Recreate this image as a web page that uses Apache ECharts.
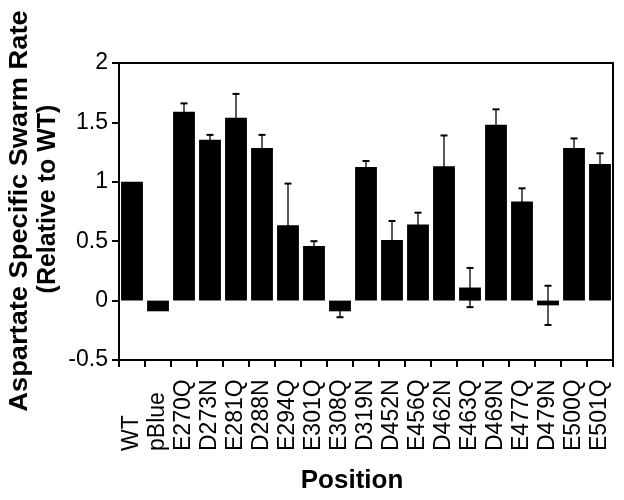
<!DOCTYPE html>
<html><head><meta charset="utf-8">
<script src="https://cdn.jsdelivr.net/npm/echarts@6/dist/echarts.min.js"></script>
<style>html,body{margin:0;padding:0;background:#fff}#c{width:624px;height:500px}</style>
</head><body><div id="c"></div>
<script>
var categories = ['WT','pBlue','E270Q','D273N','E281Q','D288N','E294Q','E301Q','E308Q','D319N','D452N','E456Q','D462N','E463Q','D469N','E477Q','D479N','E500Q','E501Q'];
var values = [1.0,-0.09,1.59,1.355,1.54,1.285,0.635,0.46,-0.09,1.125,0.51,0.64,1.13,0.11,1.48,0.835,-0.04,1.285,1.15];
var errors = [0,0,0.07,0.04,0.20,0.11,0.35,0.04,0.05,0.05,0.16,0.10,0.26,0.165,0.13,0.11,0.165,0.08,0.09];
var yTicks = [-0.5,0,0.5,1,1.5,2];

var FONT = 'Liberation Sans, Arial, Helvetica, sans-serif';
var errData = categories.map(function(c,i){ return [i, values[i]-errors[i], values[i]+errors[i], errors[i]]; });

var chart = echarts.init(document.getElementById('c'));
chart.setOption({
  animation: false,
  backgroundColor: '#fff',
  grid: {left: 119, right: 11, top: 63, bottom: 140},
  xAxis: [{
    type: 'category', data: categories, position: 'bottom',
    axisLine: {lineStyle: {color: '#000', width: 2}, onZero: false},
    axisTick: {show: true, length: 7, lineStyle: {color: '#000', width: 2}},
    axisLabel: {rotate: 90, align: 'left', color: '#000', fontSize: 23, fontFamily: FONT, margin: 91, interval: 0}
  }, {
    type: 'category', data: categories, position: 'top',
    axisLine: {show: true, onZero: false, lineStyle: {color: '#000', width: 2}},
    axisTick: {show: false}, axisLabel: {show: false}
  }],
  yAxis: [{
    type: 'value', min: yTicks[0], max: yTicks[yTicks.length-1], interval: 0.5,
    axisLine: {show: true, onZero: false, lineStyle: {color: '#000', width: 2}},
    axisTick: {show: true, length: 7, lineStyle: {color: '#000', width: 2}},
    splitLine: {show: false},
    axisLabel: {color: '#000', fontSize: 23, fontFamily: FONT, margin: 11}
  }, {
    type: 'value', min: yTicks[0], max: yTicks[yTicks.length-1], interval: 0.5, position: 'right',
    axisLine: {show: true, onZero: false, lineStyle: {color: '#000', width: 2}},
    axisTick: {show: false}, axisLabel: {show: false}, splitLine: {show: false}
  }],
  series: [{
    type: 'bar', data: values, barCategoryGap: '16%',
    itemStyle: {color: '#000'}
  }, {
    type: 'custom', data: errData, z: 5,
    renderItem: function(params, api) {
      if (api.value(3) <= 0) return null;
      var x = api.value(0);
      var lo = api.coord([x, api.value(1)]);
      var hi = api.coord([x, api.value(2)]);
      var hw = 3.5;
      var st = {stroke: '#000', lineWidth: 1.3};
      return {type: 'group', children: [
        {type: 'line', shape: {x1: lo[0], y1: lo[1], x2: hi[0], y2: hi[1]}, style: st},
        {type: 'line', shape: {x1: hi[0]-hw, y1: hi[1], x2: hi[0]+hw, y2: hi[1]}, style: {stroke: '#000', lineWidth: 2}},
        {type: 'line', shape: {x1: lo[0]-hw, y1: lo[1], x2: lo[0]+hw, y2: lo[1]}, style: {stroke: '#000', lineWidth: 2}}
      ]};
    }
  }],
  graphic: [
    {type: 'text', x: 20, y: 211, rotation: Math.PI/2, scaleX: 1.09,
     style: {text: 'Aspartate Specific Swarm Rate', font: 'bold 25px ' + FONT, fill: '#000', textAlign: 'center', textVerticalAlign: 'middle'}},
    {type: 'text', x: 48, y: 199, rotation: Math.PI/2,
     style: {text: '(Relative to WT)', font: 'bold 25px ' + FONT, fill: '#000', textAlign: 'center', textVerticalAlign: 'middle'}},
    {type: 'text', x: 352, y: 481,
     style: {text: 'Position', font: 'bold 26px ' + FONT, fill: '#000', textAlign: 'center', textVerticalAlign: 'middle'}}
  ]
});
</script></body></html>
